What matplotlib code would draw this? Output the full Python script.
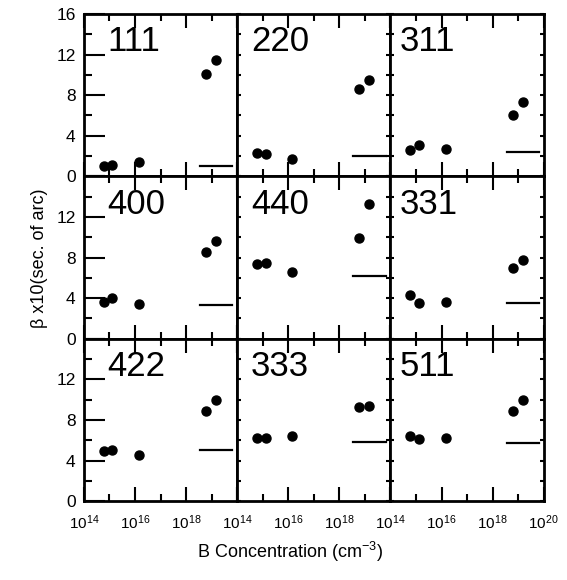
import matplotlib
matplotlib.use("Agg")
import matplotlib.pyplot as plt
import numpy as np

plt.rcParams['font.family'] = ['Liberation Sans', 'DejaVu Sans']
plt.rcParams['mathtext.default'] = 'regular'

# reflections, left to right, top to bottom
reflections = ['111', '220', '311', '400', '440', '331', '422', '333', '511']

# boron concentration of the samples (cm^-3)
conc = [6e14, 1.3e15, 1.45e16, 6e18, 1.5e19]

# measured beta x10 (sec. of arc)
beta = {
    '111': [1.05, 1.1, 1.4, 10.1, 11.5],
    '220': [2.3, 2.2, 1.75, 8.6, 9.5],
    '311': [2.55, 3.05, 2.7, 6.0, 7.3],
    '400': [3.6, 4.0, 3.4, 8.55, 9.65],
    '440': [7.4, 7.5, 6.6, 9.9, 13.3],
    '331': [4.3, 3.55, 3.65, 6.95, 7.8],
    '422': [4.95, 5.0, 4.5, 8.9, 9.95],
    '333': [6.25, 6.25, 6.45, 9.3, 9.35],
    '511': [6.4, 6.1, 6.2, 8.85, 9.95],
}

# calculated value (horizontal bar)
calc = {'111': 1.05, '220': 2.0, '311': 2.35, '400': 3.3, '440': 6.2,
        '331': 3.5, '422': 5.0, '333': 5.8, '511': 5.7}
calc_range = [3.5e18, 6.5e19]

label_x = [0.15, 0.09, 0.06]

fig, axes = plt.subplots(3, 3, figsize=(5.67, 5.80), dpi=100)
fig.subplots_adjust(left=0.148, right=0.959, top=0.976, bottom=0.136,
                    wspace=0, hspace=0)

for i, name in enumerate(reflections):
    r, c = divmod(i, 3)
    ax = axes[r, c]
    ax.plot(conc, beta[name], 'o', color='black', markersize=6.5)
    ax.plot(calc_range, [calc[name], calc[name]], '-', color='black', lw=1.6)
    ax.set_xscale('log')
    ax.set_xlim(1e14, 1e20)
    ax.set_ylim(0, 16)
    for s in ax.spines.values():
        s.set_linewidth(2.0)
    ax.text(label_x[c], 0.93, name, transform=ax.transAxes, fontsize=25,
            va='top', ha='left')

    ax.set_xticks([1e14, 1e16, 1e18, 1e20])
    ax.set_xticks([1e15, 1e17, 1e19], minor=True)
    ax.set_yticks([0, 4, 8, 12, 16])
    ax.set_yticks([2, 6, 10, 14], minor=True)
    ax.tick_params(which='both', direction='in', top=True, right=True,
                   width=1.5, labelsize=12.5)
    ax.tick_params(which='major', axis='x', length=10)
    ax.tick_params(which='minor', axis='x', length=5)
    if c == 0:
        ax.tick_params(which='major', axis='y', left=True, length=15, pad=6)
        ax.tick_params(which='minor', axis='y', length=6)
        ax.tick_params(axis='y', right=False, which='both')
        if r == 0:
            ax.set_yticklabels(['0', '4', '8', '12', '16'])
        else:
            ax.set_yticklabels(['0', '4', '8', '12', ''])
    else:
        ax.tick_params(which='both', axis='y', length=3)
        ax.set_yticklabels([])
    if r == 2:
        labs = ['10$^{14}$', '10$^{16}$', '10$^{18}$', '']
        if c == 2:
            labs[3] = '10$^{20}$'
        ax.set_xticklabels(labs)
        ax.tick_params(axis='x', labelsize=11, pad=9)
    else:
        ax.set_xticklabels([])
    ax.set_xticklabels([], minor=True)

fig.text(0.511, 0.048, 'B Concentration (cm$^{-3}$)', ha='center',
         va='center', fontsize=13)
fig.text(0.07, 0.555, 'β x10(sec. of arc)', ha='center', va='center',
         rotation=90, fontsize=13)

plt.savefig('out.png', dpi=100)
